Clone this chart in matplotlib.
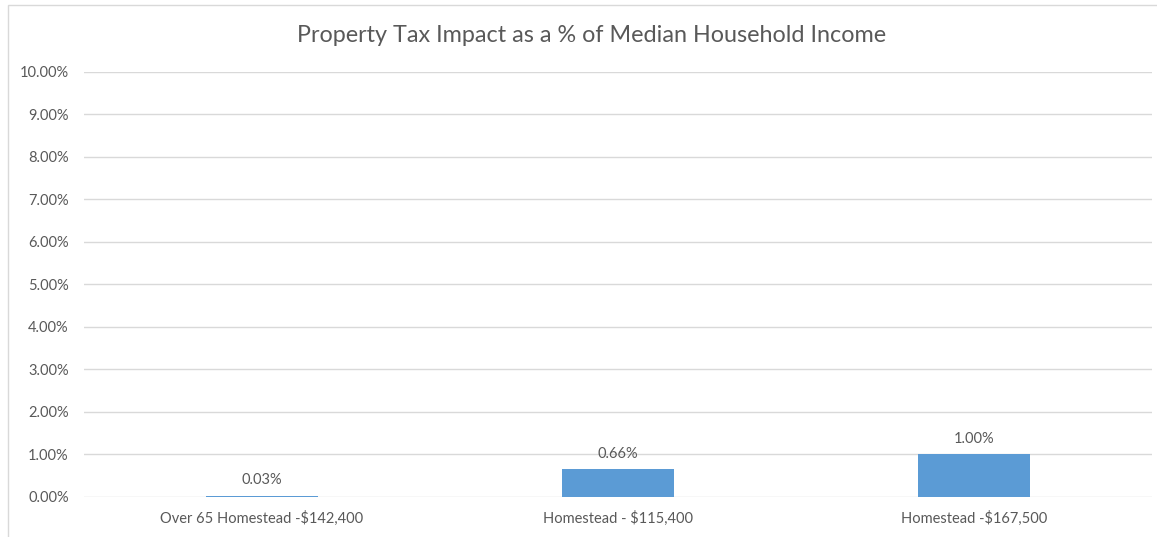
import matplotlib.pyplot as plt
from matplotlib.patches import Rectangle
from matplotlib.ticker import FuncFormatter

plt.rcParams['font.family'] = ['Lato', 'DejaVu Sans']

categories = ['Over 65 Homestead -$142,400', 'Homestead - $115,400', 'Homestead -$167,500']
values = [0.03, 0.66, 1.00]
labels = ['0.03%', '0.66%', '1.00%']
yticks = [0, 1, 2, 3, 4, 5, 6, 7, 8, 9, 10]

text_color = '#595959'
grid_color = '#D9D9D9'
bar_color = '#5B9BD5'

fig = plt.figure(figsize=(11.57, 5.37), dpi=100)
ax = fig.add_axes([0.0726, 0.0745, 0.9231, 0.7915])

x = range(len(categories))
bars = ax.bar(x, values, width=0.315, color=bar_color, zorder=3)
for bar, lab in zip(bars, labels):
    ax.annotate(lab, (bar.get_x() + bar.get_width() / 2, bar.get_height()),
                xytext=(0, 11), textcoords='offset points', ha='center', va='center',
                fontsize=10.5, color=text_color)

ax.set_xlim(-0.5, 2.5)
ax.set_ylim(0, 10)
ax.set_yticks(yticks)
ax.yaxis.set_major_formatter(FuncFormatter(lambda v, p: f'{v:.2f}%'))
ax.set_xticks(list(x))
ax.set_xticklabels(categories)
ax.tick_params(axis='both', length=0, labelsize=10.5, colors=text_color)
ax.tick_params(axis='x', pad=10)
ax.tick_params(axis='y', pad=11)
ax.grid(axis='y', color=grid_color, linewidth=1, zorder=0)
for s in ax.spines.values():
    s.set_visible(False)

fig.text(0.511, 0.933, 'Property Tax Impact as a % of Median Household Income',
         ha='center', va='center', fontsize=16.8, color=text_color)

fig.patches.append(Rectangle((8 / 1157, -0.1), 1.1, 1.1 - 5 / 537, transform=fig.transFigure,
                             fill=False, edgecolor=grid_color, linewidth=1))

fig.savefig('out.png', dpi=100)
